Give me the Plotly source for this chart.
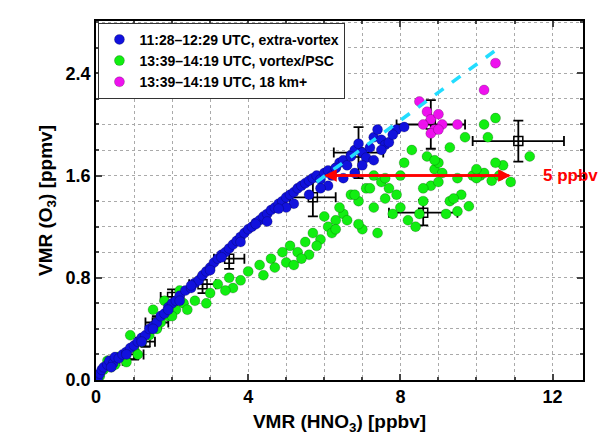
import plotly.graph_objects as go

# extra-vortex (blue)
blue_x = [0.05, 0.1, 0.15, 0.2, 0.3, 0.35, 0.45, 0.5, 0.6, 0.7, 0.8, 0.9, 1.0, 1.1, 1.2, 1.3, 1.4, 1.5,
          1.6, 1.7, 1.8, 1.9, 2.0, 2.1, 2.2, 2.35, 2.5, 2.6, 2.7, 2.8, 2.9, 3.0, 3.1, 3.2, 3.3, 3.4, 3.5,
          3.6, 3.7, 3.8, 3.9, 4.0, 4.1, 4.2, 4.3, 4.4, 4.5, 4.6, 4.7, 4.8, 4.9, 5.0, 5.1, 5.2, 5.3, 5.4,
          5.5, 5.6, 5.7, 5.8, 5.9, 6.0, 6.1, 6.2, 6.3, 6.4, 6.5, 6.6, 6.7, 6.8, 6.9, 7.0, 7.1, 7.2,
          7.3, 7.4, 7.5, 7.6, 7.7, 7.9, 8.1, 5.2, 5.6, 6.1, 6.5, 6.8, 7.0, 7.3, 4.5, 3.8, 3.0, 2.2, 1.5,
          0.8, 0.4, 5.0, 5.9, 6.3, 6.7, 7.5, 7.8, 4.8, 4.2, 3.3, 2.5, 1.9, 1.2]
blue_y = [0.02, 0.05, 0.08, 0.1, 0.12, 0.15, 0.13, 0.18, 0.17, 0.2, 0.22, 0.25, 0.27, 0.3, 0.33, 0.35, 0.4, 0.42,
          0.45, 0.5, 0.52, 0.57, 0.6, 0.62, 0.66, 0.7, 0.72, 0.76, 0.78, 0.82, 0.85, 0.88, 0.92, 0.95, 0.98, 1.0, 1.03,
          1.06, 1.09, 1.12, 1.15, 1.18, 1.2, 1.23, 1.25, 1.28, 1.3, 1.33, 1.35, 1.38, 1.4, 1.43, 1.45, 1.47, 1.5, 1.52,
          1.54, 1.56, 1.58, 1.6, 1.57, 1.62, 1.64, 1.6, 1.66, 1.7, 1.72, 1.68, 1.76, 1.8, 1.85, 1.78, 1.74, 1.82,
          1.9, 1.96, 1.88, 1.84, 1.86, 1.96, 1.98, 1.38, 1.45, 1.52, 1.58, 1.62, 1.68, 1.72, 1.24, 1.08, 0.86, 0.62, 0.4,
          0.2, 0.1, 1.35, 1.5, 1.66, 1.75, 1.8, 1.92, 1.34, 1.22, 0.96, 0.74, 0.55, 0.3]

# vortex/PSC (green)
green_x = [0.1, 0.2, 0.4, 0.6, 0.8, 1.0, 1.2, 1.4, 1.7, 1.9, 2.1, 2.3, 2.6, 2.9, 3.2, 3.5, 3.8, 4.0, 4.3,
           4.6, 4.9, 5.1, 5.3, 5.5, 5.7, 5.9, 6.1, 6.3, 6.5, 6.7, 6.9, 7.1, 7.3, 7.5, 7.7, 7.9, 8.1, 8.3,
           8.5, 8.7, 8.9, 9.1, 9.3, 9.5, 9.7, 9.9, 10.1, 10.3, 10.5, 10.7, 10.9, 11.4, 0.5, 1.1, 1.6, 2.4,
           3.0, 3.6, 4.4, 5.0, 5.6, 6.0, 6.4, 6.8, 7.2, 7.6, 8.0, 8.4, 8.8, 9.2, 9.6, 10.0, 10.4, 10.6,
           6.6, 7.0, 7.4, 7.8, 8.2, 8.6, 9.0, 9.4, 9.8, 10.2, 5.4, 5.8, 6.2, 7.6, 8.0, 9.0, 10.2, 9.3, 8.9,
           2.0, 3.4, 4.7, 5.2, 6.3, 6.9, 7.3, 8.6, 9.5, 10.0, 10.5, 0.9, 1.5, 2.2, 1.8, 0.3]
green_y = [0.03, 0.08, 0.1, 0.18, 0.14, 0.25, 0.3, 0.35, 0.45, 0.5, 0.55, 0.6, 0.62, 0.6, 0.75, 0.8, 0.78, 0.85, 0.9,
           0.95, 1.0, 1.05, 1.0, 1.08, 1.15, 1.1, 1.2, 1.25, 1.3, 1.45, 1.4, 1.5, 1.35, 1.55, 1.5, 1.45, 1.7, 1.8,
           1.3, 1.75, 1.65, 1.62, 1.4, 1.32, 1.9, 1.6, 1.6, 1.9, 2.05, 1.68, 1.55, 1.75, 0.12, 0.2, 0.4, 0.55,
           0.68, 0.72, 0.82, 0.92, 0.98, 1.28, 1.35, 1.45, 1.5, 1.42, 1.35, 1.2, 1.52, 1.3, 1.45, 1.58, 1.56, 1.6,
           1.25, 1.18, 1.15, 1.3, 1.25, 1.4, 1.55, 1.42, 1.36, 1.62, 0.95, 1.05, 1.15, 1.58, 1.6, 1.7, 2.0, 1.82, 1.72,
           0.5, 0.7, 0.88, 0.9, 1.18, 1.22, 1.6, 1.5, 1.58, 1.65, 1.7, 0.35, 0.55, 0.7, 0.62, 0.15]

# 18 km+ (magenta)
mag_x = [8.5, 8.7, 8.8, 9.0, 8.9, 8.6, 8.8, 9.1, 9.0, 9.5, 10.2, 10.5]
mag_y = [2.18, 2.1, 2.04, 2.08, 1.96, 2.0, 1.93, 2.0, 1.96, 2.0, 2.27, 2.48]

# error bars (black)
err_x = [0.5, 1.0, 1.3, 1.6, 2.0, 2.8, 3.5, 5.7, 6.9, 8.8, 8.6, 11.1]
err_y = [0.15, 0.2, 0.3, 0.45, 0.65, 0.75, 0.95, 1.43, 1.78, 2.0, 1.31, 1.87]
err_dx = [0.2, 0.25, 0.25, 0.3, 0.3, 0.35, 0.4, 0.6, 0.65, 0.9, 0.9, 1.2]
err_dy = [0.03, 0.04, 0.04, 0.05, 0.06, 0.07, 0.08, 0.15, 0.2, 0.19, 0.1, 0.16]

line_x = [5.8, 10.5]
line_y = [1.55, 2.58]

arrow_x0, arrow_x1, arrow_y = 6.0, 10.9, 1.6

FONT = 'Liberation Sans'


def ball(color):
    return dict(size=10, color=color, line=dict(width=0.6, color='rgba(0,0,0,0.35)'))


fig = go.Figure()
fig.add_trace(go.Scatter(x=err_x, y=err_y, mode='markers', showlegend=False,
                         marker=dict(symbol='square-open', size=9, color='black', line=dict(width=1.5)),
                         error_x=dict(array=err_dx, color='black', thickness=1.8, width=5),
                         error_y=dict(array=err_dy, color='black', thickness=1.8, width=5)))
fig.add_trace(go.Scatter(x=green_x, y=green_y, mode='markers', name='13:39\u201314:19 UTC, vortex/PSC',
                         legendrank=2, marker=ball('#11ee11')))
fig.add_trace(go.Scatter(x=blue_x, y=blue_y, mode='markers', name='11:28\u201312:29 UTC, extra-vortex',
                         legendrank=1, marker=ball('#1111dd')))
fig.add_trace(go.Scatter(x=mag_x, y=mag_y, mode='markers', name='13:39\u201314:19 UTC, 18 km+',
                         legendrank=3, marker=ball('#ee11ee')))
fig.add_trace(go.Scatter(x=line_x, y=line_y, mode='lines', showlegend=False,
                         line=dict(color='#22ddff', width=3.5, dash='dash')))

for a, b in [(arrow_x0, arrow_x1), (arrow_x1, arrow_x0)]:
    fig.add_annotation(x=b, y=arrow_y, ax=a, ay=arrow_y, xref='x', yref='y', axref='x', ayref='y',
                       text='', showarrow=True, arrowhead=2, arrowsize=1, arrowwidth=2.5, arrowcolor='red')
fig.add_annotation(x=1.035, y=1.6, text='<b>5 ppbv</b>', showarrow=False, xanchor='right',
                   font=dict(color='red', size=17, family=FONT), xref='paper', yref='y')

axis = dict(showline=True, linecolor='black', linewidth=1.5, mirror='ticks', ticks='inside', ticklen=6,
            tickwidth=1.5, showgrid=True, gridcolor='#aaaaaa', griddash='dot', zeroline=False,
            automargin=False, tickfont=dict(size=18, family=FONT, color='black', weight='bold'))
fig.update_xaxes(**axis, range=[0, 12.8], tickvals=[0, 4, 8, 12],
                 minor=dict(dtick=1, showgrid=True, gridcolor='#aaaaaa', griddash='dot', ticks='inside', ticklen=3),
                 title=dict(text='<b>VMR (HNO<sub>3</sub>) [ppbv]</b>', standoff=8,
                            font=dict(size=19, family=FONT, color='black')))
fig.update_yaxes(**axis, range=[0, 2.81], tickvals=[0, 0.8, 1.6, 2.4], tickformat='.1f',
                 minor=dict(dtick=0.2, showgrid=True, gridcolor='#aaaaaa', griddash='dot', ticks='inside', ticklen=3),
                 title=dict(text='<b>VMR (O<sub>3</sub>) [ppmv]</b>', standoff=8,
                            font=dict(size=19, family=FONT, color='black')))
fig.update_layout(width=614, height=447, plot_bgcolor='white', paper_bgcolor='white',
                  margin=dict(l=88, r=39, t=13, b=75), font=dict(family=FONT, color='black'),
                  legend=dict(x=0.005, y=0.995, xanchor='left', yanchor='top', bgcolor='white',
                              bordercolor='#333333', borderwidth=1, traceorder='normal',
                              font=dict(size=14, family=FONT, weight='bold'), tracegroupgap=0,
                              itemwidth=30))
fig.write_html("out.html")
